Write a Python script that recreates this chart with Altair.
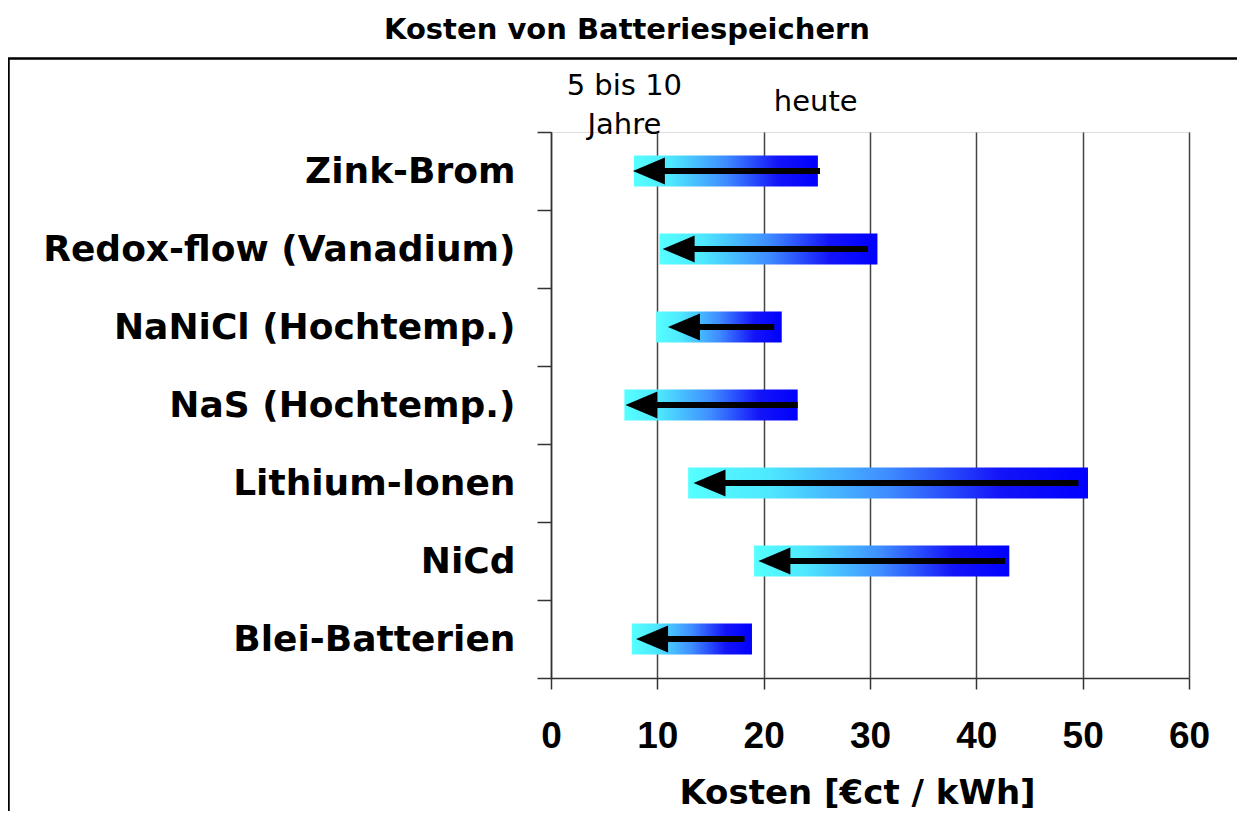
import altair as alt
import pandas as pd

# ---- data ----
speicher = ["Zink-Brom", "Redox-flow (Vanadium)", "NaNiCl (Hochtemp.)",
            "NaS (Hochtemp.)", "Lithium-Ionen", "NiCd", "Blei-Batterien"]
bereich_min = [7.8, 10.2, 9.9, 6.9, 12.9, 19.1, 7.6]      # left end of the bar
bereich_max = [25.1, 30.7, 21.7, 23.2, 50.5, 43.1, 18.9]  # right end of the bar
kosten_heute = [25.3, 29.8, 21.0, 23.2, 49.6, 42.7, 18.2]  # arrow tail (today)
kosten_zukunft = [7.7, 10.5, 11.0, 7.0, 13.4, 19.5, 8.0]  # arrow tip (5-10 years)

x_ticks = [0, 10, 20, 30, 40, 50, 60]

ann_text = ["5 bis 10\nJahre", "heute"]
ann_x = [6.9, 24.9]

df = pd.DataFrame({
    "Speicher": speicher,
    "min": bereich_min,
    "max": bereich_max,
    "heute": kosten_heute,
    "zukunft": kosten_zukunft,
})
ann = pd.DataFrame({"text": ann_text, "x": ann_x})

X_TITLE = "Kosten [€ct / kWh]"
xscale = alt.Scale(domain=[0, 60], nice=False)
yscale = alt.Scale(paddingInner=0, paddingOuter=0)

xaxis = alt.Axis(
    values=x_ticks, grid=True, gridColor="#444444", gridWidth=1.5,
    domainColor="#333333", domainWidth=1.5,
    tickColor="#333333", tickWidth=1.5, tickSize=11,
    labelFont="Liberation Sans", labelFontSize=37, labelFontWeight="bold",
    labelColor="#000000", labelPadding=29, labelFlush=False,
    titleFont="DejaVu Sans", titleFontSize=34, titleFontWeight="bold",
    titleColor="#000000", titlePadding=22, titleX=306,
)
yaxis = alt.Axis(
    title=None, tickBand="extent", tickSize=14, tickColor="#333333", tickWidth=1.5,
    domainColor="#333333", domainWidth=1.5,
    labelFont="DejaVu Sans", labelFontSize=36, labelFontWeight="bold",
    labelColor="#000000", labelPadding=22, labelLimit=0,
)

ysort = alt.Y("Speicher:N", sort=speicher, scale=yscale, axis=yaxis)

grad = alt.Gradient(
    gradient="linear",
    stops=[
        alt.GradientStop(color="#55ffff", offset=0),
        alt.GradientStop(color="#4ee8ff", offset=0.2),
        alt.GradientStop(color="#3f8cff", offset=0.5),
        alt.GradientStop(color="#1414f8", offset=0.78),
        alt.GradientStop(color="#0000ff", offset=1),
    ],
    x1=0, x2=1, y1=0, y2=0,
)

base = alt.Chart(df)

bars = base.mark_bar(fill=grad, height=31).encode(
    x=alt.X("min:Q", scale=xscale, axis=xaxis, title=X_TITLE),
    x2="max:Q",
    y=ysort,
)

shaft = base.mark_rule(color="#000000", strokeWidth=6, x2Offset=16).encode(
    x=alt.X("heute:Q", scale=xscale, title=X_TITLE),
    x2="zukunft:Q",
    y=ysort,
)

head = base.mark_point(
    shape="M-1,0L1,-0.84L1,0.84Z", size=1024, filled=True,
    fill="#000000", opacity=1, strokeWidth=0, xOffset=16,
).encode(
    x=alt.X("zukunft:Q", scale=xscale, title=X_TITLE),
    y=ysort,
)

ann_left = alt.Chart(ann).transform_filter(alt.datum.x < 15).mark_text(
    font="DejaVu Sans", fontSize=29, color="#000000", align="center",
    baseline="alphabetic", lineBreak="\n", lineHeight=39,
).encode(
    x=alt.X("x:Q", scale=xscale, title=X_TITLE),
    y=alt.value(-37),
    text="text:N",
)

ann_right = alt.Chart(ann).transform_filter(alt.datum.x > 15).mark_text(
    font="DejaVu Sans", fontSize=29, color="#000000", align="center",
    baseline="alphabetic",
).encode(
    x=alt.X("x:Q", scale=xscale, title=X_TITLE),
    y=alt.value(-21),
    text="text:N",
)

frame = alt.Chart(pd.DataFrame({"f": [0]})).mark_rect(
    fill="transparent", stroke="#000000", strokeWidth=2.5,
).encode(
    x=alt.value(-542.5), x2=alt.value(740),
    y=alt.value(-73.5), y2=alt.value(760),
)

chart = alt.layer(frame, bars, shaft, head, ann_left, ann_right).properties(
    width=638,
    height=546,
    autosize=alt.AutoSizeParams(type="none"),
    padding={"left": 543, "top": 124, "right": 48, "bottom": 133},
    title=alt.TitleParams(
        "Kosten von Batteriespeichern",
        font="DejaVu Sans", fontSize=29, fontWeight="bold", color="#000000",
        anchor="middle", frame="group", dx=-243, baseline="alphabetic", offset=-11,
    ),
).configure_view(stroke="transparent").configure(background="#ffffff")

chart.save("out.html", embed_options={"renderer": "svg", "actions": False})
